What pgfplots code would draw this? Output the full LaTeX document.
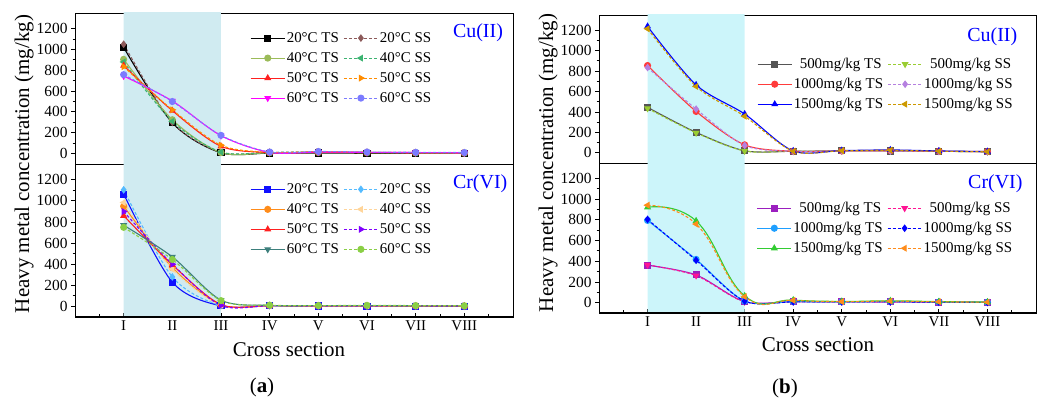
\documentclass[border=0pt]{standalone}
\usepackage{fontspec}
\setmainfont{Liberation Serif}
\usepackage{pgfplots}
\pgfplotsset{compat=1.18}

% panel (a) colours
\definecolor{cA1}{HTML}{000000}
\definecolor{cA2}{HTML}{8C5A5A}
\definecolor{cA3}{HTML}{9BBB59}
\definecolor{cA4}{HTML}{3CB371}
\definecolor{cA5}{HTML}{FF2020}
\definecolor{cA6}{HTML}{FF8C00}
\definecolor{cA7}{HTML}{FF00FF}
\definecolor{cA8}{HTML}{7B7BFF}
\definecolor{dA1}{HTML}{1010FF}
\definecolor{dA2}{HTML}{55BBFF}
\definecolor{dA3}{HTML}{FF8C1A}
\definecolor{dA4}{HTML}{FFD59A}
\definecolor{dA5}{HTML}{FF2020}
\definecolor{dA6}{HTML}{8000FF}
\definecolor{dA7}{HTML}{3D7F7C}
\definecolor{dA8}{HTML}{8ACF45}
% panel (b) colours
\definecolor{cB1}{HTML}{555555}
\definecolor{cB2}{HTML}{9ACD32}
\definecolor{cB3}{HTML}{FF3B3B}
\definecolor{cB4}{HTML}{B580E0}
\definecolor{cB5}{HTML}{0000FF}
\definecolor{cB6}{HTML}{CC9900}
\definecolor{dB1}{HTML}{9B1FBF}
\definecolor{dB2}{HTML}{FF1493}
\definecolor{dB3}{HTML}{1E9FFF}
\definecolor{dB4}{HTML}{0000FF}
\definecolor{dB5}{HTML}{33CC33}
\definecolor{dB6}{HTML}{FF8C1A}
\definecolor{shadeA}{HTML}{D0EBF1}
\definecolor{shadeB}{HTML}{CCF5FA}

\pgfplotsset{
  panel/.style={
    scale only axis, xmin=0, xmax=9, ymin=-100, ymax=1350,
    axis line style={line width=0.9bp},
    ytick={0,200,...,1200}, minor y tick num=1,
    xtick={0,...,9}, minor x tick num=1,
    xtick align=inside, ytick align=outside,
    xtick pos=bottom, ytick pos=left,
    major tick length=4bp, minor tick length=2.5bp,
    tick style={line width=0.9bp, black},
    tick label style={font=\fontsize{15}{16}\selectfont},
    y tick label style={font=\fontsize{15.5}{17}\selectfont},
    /pgf/number format/assume math mode=true,
    /pgf/number format/1000 sep={},
    legend columns=2,
    legend cell align=left,
    legend style={draw=none, fill=none, inner sep=0pt, outer sep=0pt,
      font=\fontsize{15}{17}\selectfont, row sep=3bp,
      nodes={inner sep=1.5bp, text height=11bp, text depth=3bp},
      /tikz/every even column/.append style={column sep=3bp}},
    legend image code/.code={\draw[mark repeat=2,mark phase=2] plot coordinates {(0bp,0bp) (17bp,0bp) (34bp,0bp)};},
    every axis plot/.append style={smooth, tension=0.5, line width=1.1bp, mark size=3bp},
  },
  toppanel/.style={xtick=\empty, minor x tick num=0},
  ts/.style={solid},
  ss/.style={dash pattern=on 3bp off 2bp},
}

\begin{document}
\begin{tikzpicture}
\useasboundingbox (0,0) rectangle (1041bp,400bp);

% ---------------- panel (a), Cu(II)
\begin{axis}[panel, toppanel, at={(75bp,236bp)}, anchor=south west, width=438bp, height=151bp,
  legend style={at={(0.40,0.89)}, anchor=north west}]
\addplot[fill=shadeA, draw=none, forget plot, sharp plot] coordinates {(1,-200) (3,-200) (3,1500) (1,1500)} \closedcycle;
\addplot[cA1, ts, mark=square*, mark options={solid}] coordinates {(1,1020)(2,295)(3,8)(4,5)(5,6)(6,3)(7,3)(8,2)};
\addlegendentry{20°C TS}
\addplot[cA2, ss, mark=diamond*, mark options={solid}] coordinates {(1,1050)(2,300)(3,12)(4,10)(5,15)(6,10)(7,8)(8,6)};
\addlegendentry{20°C SS}
\addplot[cA3, ts, mark=*, mark options={solid}] coordinates {(1,905)(2,325)(3,10)(4,8)(5,10)(6,8)(7,6)(8,4)};
\addlegendentry{40°C TS}
\addplot[cA4, ss, mark=triangle*, mark options={solid, rotate=90}] coordinates {(1,880)(2,310)(3,15)(4,12)(5,15)(6,12)(7,8)(8,6)};
\addlegendentry{40°C SS}
\addplot[cA5, ts, mark=triangle*, mark options={solid}] coordinates {(1,845)(2,412)(3,70)(4,10)(5,12)(6,10)(7,8)(8,6)};
\addlegendentry{50°C TS}
\addplot[cA6, ss, mark=triangle*, mark options={solid, rotate=-90}] coordinates {(1,835)(2,420)(3,80)(4,12)(5,18)(6,12)(7,10)(8,8)};
\addlegendentry{50°C SS}
\addplot[cA7, ts, mark=triangle*, mark options={solid, rotate=180}] coordinates {(1,745)(2,505)(3,172)(4,12)(5,15)(6,12)(7,10)(8,8)};
\addlegendentry{60°C TS}
\addplot[cA8, ss, mark=*, mark options={solid}] coordinates {(1,758)(2,500)(3,175)(4,15)(5,20)(6,15)(7,12)(8,10)};
\addlegendentry{60°C SS}
\draw[line width=2bp] (rel axis cs:0,0) -- (rel axis cs:0,1);
\node[anchor=east, text=blue, font=\fontsize{20}{22}\selectfont] at (rel axis cs:0.985,0.868) {Cu(II)};
\end{axis}

% ---------------- panel (a), Cr(VI)
\begin{axis}[panel, at={(75bp,83bp)}, anchor=south west, width=438bp, height=153bp,
  xticklabels={,I,II,III,IV,V,VI,VII,VIII,},
  legend style={at={(0.40,0.89)}, anchor=north west}]
\addplot[fill=shadeA, draw=none, forget plot, sharp plot] coordinates {(1,-200) (3,-200) (3,1500) (1,1500)} \closedcycle;
\addplot[dA1, ts, mark=square*, mark options={solid}] coordinates {(1,1065)(2,230)(3,5)(4,5)(5,4)(6,3)(7,3)(8,2)};
\addlegendentry{20°C TS}
\addplot[dA2, ss, mark=diamond*, mark options={solid}] coordinates {(1,1105)(2,280)(3,8)(4,8)(5,6)(6,5)(7,4)(8,3)};
\addlegendentry{20°C SS}
\addplot[dA3, ts, mark=*, mark options={solid}] coordinates {(1,950)(2,368)(3,15)(4,8)(5,6)(6,5)(7,4)(8,3)};
\addlegendentry{40°C TS}
\addplot[dA4, ss, mark=triangle*, mark options={solid, rotate=90}] coordinates {(1,985)(2,355)(3,12)(4,8)(5,6)(6,6)(7,5)(8,4)};
\addlegendentry{40°C SS}
\addplot[dA5, ts, mark=triangle*, mark options={solid}] coordinates {(1,860)(2,395)(3,18)(4,8)(5,6)(6,6)(7,5)(8,4)};
\addlegendentry{50°C TS}
\addplot[dA6, ss, mark=triangle*, mark options={solid, rotate=-90}] coordinates {(1,900)(2,400)(3,10)(4,8)(5,6)(6,6)(7,5)(8,4)};
\addlegendentry{50°C SS}
\addplot[dA7, ts, mark=triangle*, mark options={solid, rotate=180}] coordinates {(1,770)(2,470)(3,60)(4,10)(5,8)(6,8)(7,6)(8,5)};
\addlegendentry{60°C TS}
\addplot[dA8, ss, mark=*, mark options={solid}] coordinates {(1,750)(2,445)(3,55)(4,12)(5,8)(6,10)(7,8)(8,6)};
\addlegendentry{60°C SS}
\draw[line width=2bp] (rel axis cs:0,1) -- (rel axis cs:0,0) -- (rel axis cs:1,0);
\node[anchor=east, text=blue, font=\fontsize{20}{22}\selectfont] at (rel axis cs:0.995,0.869) {Cr(VI)};
\end{axis}

% ---------------- panel (b), Cu(II)
\begin{axis}[panel, toppanel, at={(599bp,237bp)}, anchor=south west, width=437bp, height=148bp,
  legend style={at={(0.362,0.725)}, anchor=north west}]
\addplot[fill=shadeB, draw=none, forget plot, sharp plot] coordinates {(1,-200) (3,-200) (3,1500) (1,1500)} \closedcycle;
\addplot[cB1, ts, mark=square*, mark options={solid}] coordinates {(1,445)(2,200)(3,20)(4,15)(5,20)(6,18)(7,15)(8,10)};
\addlegendentry{\hspace{6bp}500mg/kg TS}
\addplot[cB2, ss, mark=triangle*, mark options={solid, rotate=180}] coordinates {(1,435)(2,195)(3,18)(4,15)(5,18)(6,20)(7,15)(8,10)};
\addlegendentry{\hspace{6bp}500mg/kg SS}
\addplot[cB3, ts, mark=*, mark options={solid}] coordinates {(1,855)(2,405)(3,78)(4,15)(5,18)(6,20)(7,15)(8,12)};
\addlegendentry{1000mg/kg TS}
\addplot[cB4, ss, mark=diamond*, mark options={solid}] coordinates {(1,835)(2,428)(3,72)(4,15)(5,20)(6,18)(7,15)(8,10)};
\addlegendentry{1000mg/kg SS}
\addplot[cB5, ts, mark=triangle*, mark options={solid}] coordinates {(1,1238)(2,665)(3,380)(4,18)(5,22)(6,28)(7,18)(8,12)};
\addlegendentry{1500mg/kg TS}
\addplot[cB6, ss, mark=triangle*, mark options={solid, rotate=90}] coordinates {(1,1215)(2,650)(3,358)(4,15)(5,20)(6,25)(7,15)(8,10)};
\addlegendentry{1500mg/kg SS}
\draw[line width=2bp] (rel axis cs:0,0) -- (rel axis cs:0,1);
\node[anchor=east, text=blue, font=\fontsize{20}{22}\selectfont] at (rel axis cs:0.965,0.853) {Cu(II)};
\end{axis}

% ---------------- panel (b), Cr(VI)
\begin{axis}[panel, at={(599bp,87bp)}, anchor=south west, width=437bp, height=150bp,
  xticklabels={,I,II,III,IV,V,VI,VII,VIII,},
  legend style={at={(0.361,0.755)}, anchor=north west}]
\addplot[fill=shadeB, draw=none, forget plot, sharp plot] coordinates {(1,-200) (3,-200) (3,1500) (1,1500)} \closedcycle;
\addplot[dB1, ts, mark=square*, mark options={solid}] coordinates {(1,362)(2,268)(3,10)(4,10)(5,8)(6,8)(7,5)(8,3)};
\addlegendentry{\hspace{6bp}500mg/kg TS}
\addplot[dB2, ss, mark=triangle*, mark options={solid, rotate=180}] coordinates {(1,365)(2,262)(3,8)(4,8)(5,8)(6,6)(7,4)(8,3)};
\addlegendentry{\hspace{6bp}500mg/kg SS}
\addplot[dB3, ts, mark=*, mark options={solid}] coordinates {(1,795)(2,418)(3,15)(4,10)(5,8)(6,10)(7,6)(8,4)};
\addlegendentry{1000mg/kg TS}
\addplot[dB4, ss, mark=diamond*, mark options={solid}] coordinates {(1,805)(2,410)(3,15)(4,8)(5,8)(6,8)(7,5)(8,3)};
\addlegendentry{1000mg/kg SS}
\addplot[dB5, ts, tension=0.75, mark=triangle*, mark options={solid}] coordinates {(1,922)(2,790)(3,65)(4,25)(5,12)(6,18)(7,10)(8,6)};
\addlegendentry{1500mg/kg TS}
\addplot[dB6, ss, tension=0.75, mark=triangle*, mark options={solid, rotate=90}] coordinates {(1,942)(2,760)(3,58)(4,22)(5,10)(6,15)(7,8)(8,5)};
\addlegendentry{1500mg/kg SS}
\draw[line width=2bp] (rel axis cs:0,1) -- (rel axis cs:0,0) -- (rel axis cs:1,0);
\node[anchor=east, text=blue, font=\fontsize{20}{22}\selectfont] at (rel axis cs:0.977,0.865) {Cr(VI)};
\end{axis}

% shared labels
\node[rotate=90, font=\fontsize{21}{23}\selectfont] at (24bp,236bp) {Heavy metal concentration (mg/kg)};
\node[rotate=90, font=\fontsize{21}{23}\selectfont] at (548bp,237bp) {Heavy metal concentration (mg/kg)};
\node[font=\fontsize{21}{23}\selectfont] at (289bp,50bp) {Cross section};
\node[font=\fontsize{21}{23}\selectfont] at (818bp,55bp) {Cross section};
\node[font=\fontsize{21}{23}\selectfont] at (262bp,13bp) {(\textbf{a})};
\node[font=\fontsize{21}{23}\selectfont] at (785bp,12bp) {(\textbf{b})};
\end{tikzpicture}
\end{document}
